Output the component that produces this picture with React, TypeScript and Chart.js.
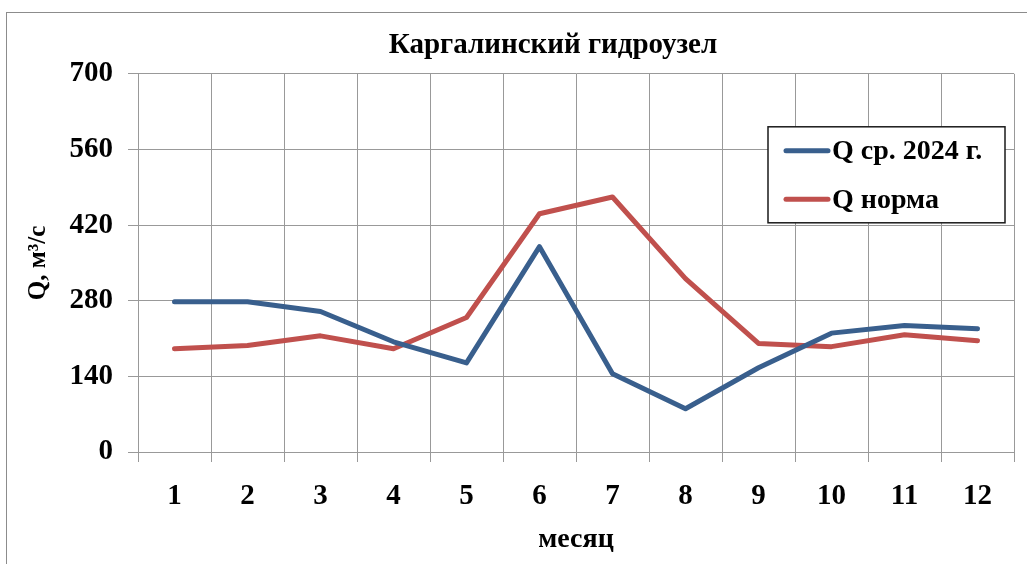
import React, { useEffect, useRef } from 'react';
import { Chart, registerables } from 'chart.js';

Chart.register(...registerables);

const chartTitle = 'Каргалинский гидроузел';
const xTitle = 'месяц';
const yTitle = 'Q, м³/с';
const months = ['1', '2', '3', '4', '5', '6', '7', '8', '9', '10', '11', '12'];
const seriesNames = ['Q ср. 2024 г.', 'Q норма'];
const q2024 = [278, 278, 260, 204, 165, 380, 145, 80, 156, 220, 234, 228];
const qNorm = [191, 197, 215, 191, 249, 441, 472, 321, 201, 195, 217, 206];
const yTicks = [0, 140, 280, 420, 560, 700];

const BLUE = '#395F8D';
const RED = '#C0504D';
const GRID = '#999999';
const FONT = "'Liberation Serif', 'Times New Roman', serif";

const titlePlugin = {
  id: 'customTitle',
  afterDraw(chart: any) {
    const { ctx, chartArea } = chart;
    ctx.save();
    ctx.fillStyle = '#000';
    ctx.font = `bold 29px ${FONT}`;
    ctx.textAlign = 'center';
    ctx.textBaseline = 'alphabetic';
    ctx.fillText(chartTitle, (chartArea.left + chartArea.right) / 2 - 23, chartArea.top - 21);
    ctx.restore();
  },
};

const legendBoxPlugin = {
  id: 'legendBox',
  afterDraw(chart: any) {
    const { ctx, chartArea } = chart;
    const w = 237;
    const h = 96;
    const right = chartArea.right - 9;
    const left = right - w;
    const top = chartArea.top + 53;
    ctx.save();
    ctx.fillStyle = '#ffffff';
    ctx.fillRect(left, top, w, h);
    ctx.strokeStyle = '#1a1a1a';
    ctx.lineWidth = 1.5;
    ctx.strokeRect(left, top, w, h);
    chart.data.datasets.forEach((ds: any, i: number) => {
      const y = top + 24 + i * 48.5;
      ctx.strokeStyle = ds.borderColor;
      ctx.lineWidth = 5;
      ctx.lineCap = 'round';
      ctx.beginPath();
      ctx.moveTo(left + 18, y);
      ctx.lineTo(left + 60, y);
      ctx.stroke();
      ctx.fillStyle = '#000';
      ctx.font = `bold 28px ${FONT}`;
      ctx.textBaseline = 'middle';
      ctx.textAlign = 'left';
      ctx.fillText(ds.label, left + 64, y + 1);
    });
    ctx.restore();
  },
};

export default function App() {
  const ref = useRef<HTMLCanvasElement | null>(null);

  useEffect(() => {
    if (!ref.current) return;
    const chart = new Chart(ref.current, {
      type: 'line',
      data: {
        labels: months,
        datasets: [
          {
            label: seriesNames[0],
            data: q2024,
            borderColor: BLUE,
            backgroundColor: BLUE,
            borderWidth: 5,
            pointRadius: 0,
            tension: 0,
            borderJoinStyle: 'round',
            borderCapStyle: 'round',
          },
          {
            label: seriesNames[1],
            data: qNorm,
            borderColor: RED,
            backgroundColor: RED,
            borderWidth: 5,
            pointRadius: 0,
            tension: 0,
            borderJoinStyle: 'round',
            borderCapStyle: 'round',
          },
        ],
      },
      options: {
        animation: false,
        responsive: false,
        maintainAspectRatio: false,
        layout: { padding: { left: 24, right: 13, top: 26, bottom: 7 } },
        plugins: {
          legend: { display: false },
          tooltip: { enabled: false },
          title: {
            display: true,
            text: chartTitle,
            color: 'rgba(0,0,0,0)',
            font: { family: FONT, size: 29, weight: 'bold' },
            padding: { top: 0, bottom: 13 },
          },
        },
        scales: {
          x: {
            type: 'category',
            offset: true,
            grid: { offset: true, color: GRID, lineWidth: 1, tickLength: 10, drawTicks: true },
            border: { color: GRID, width: 1 },
            ticks: {
              color: '#000',
              font: { family: FONT, size: 29, weight: 'bold' },
              padding: 17,
              maxRotation: 0,
              autoSkip: false,
            },
            title: {
              display: true,
              text: xTitle,
              color: '#000',
              font: { family: FONT, size: 28, weight: 'bold' },
              padding: { top: 4, bottom: 0 },
            },
            afterFit: (s: any) => {
              s.height = 105;
            },
          },
          y: {
            min: 0,
            max: 700,
            afterBuildTicks: (s: any) => {
              s.ticks = yTicks.map((v) => ({ value: v }));
            },
            grid: { color: GRID, lineWidth: 1, tickLength: 10, drawTicks: true },
            border: { color: GRID, width: 1 },
            ticks: {
              color: '#000',
              font: { family: FONT, size: 29, weight: 'bold' },
              padding: 15,
            },
            title: {
              display: true,
              text: yTitle,
              color: '#000',
              font: { family: FONT, size: 25, weight: 'bold' },
              padding: { top: 0, bottom: 6 },
            },
            afterFit: (s: any) => {
              s.width = 114;
            },
          },
        },
      },
      plugins: [titlePlugin, legendBoxPlugin],
    });
    return () => chart.destroy();
  }, []);

  return (
    <div style={{ position: 'fixed', left: 0, top: 0, width: 1027, height: 564, background: '#fff', overflow: 'hidden' }}>
      <div
        style={{
          position: 'absolute',
          left: 6,
          top: 12,
          width: 1100,
          height: 700,
          borderLeft: '1.5px solid #8c8c8c',
          borderTop: '1.5px solid #8c8c8c',
        }}
      />
      <canvas ref={ref} width={1027} height={564} style={{ position: 'absolute', left: 0, top: 0 }} />
    </div>
  );
}
